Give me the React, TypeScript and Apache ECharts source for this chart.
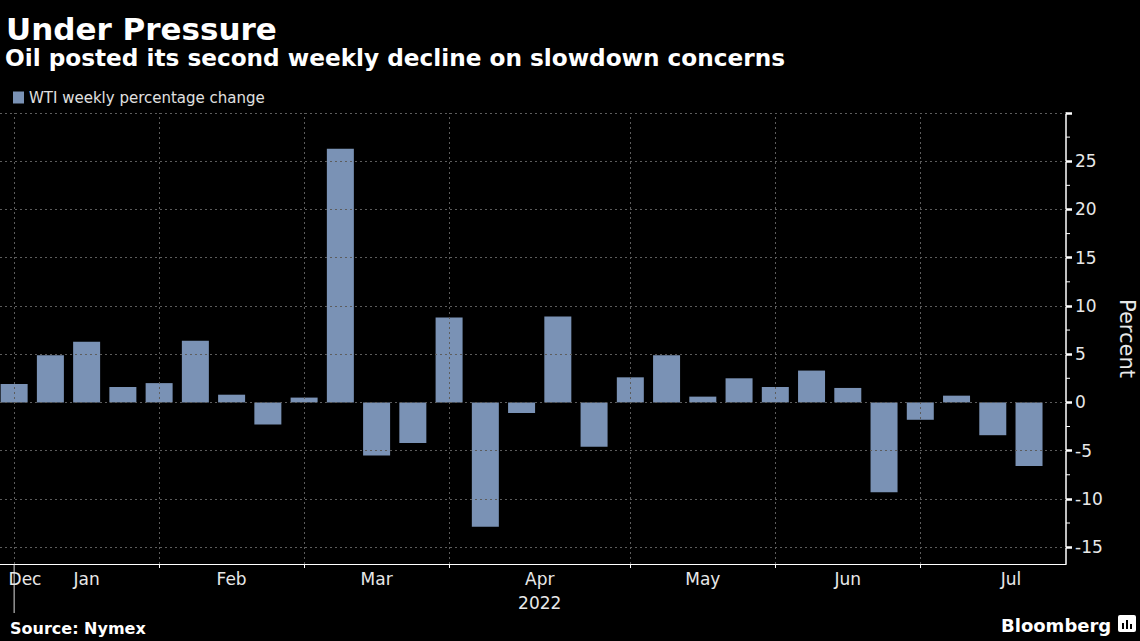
import React, { useEffect, useRef } from 'react';
import * as echarts from 'echarts';

// Week-ending dates (Fridays) and WTI weekly % change
const weekEnding = [
  '2021-12-31', '2022-01-07', '2022-01-14', '2022-01-21', '2022-01-28',
  '2022-02-04', '2022-02-11', '2022-02-18', '2022-02-25',
  '2022-03-04', '2022-03-11', '2022-03-18', '2022-03-25',
  '2022-04-01', '2022-04-08', '2022-04-14', '2022-04-22', '2022-04-29',
  '2022-05-06', '2022-05-13', '2022-05-20', '2022-05-27',
  '2022-06-03', '2022-06-10', '2022-06-17', '2022-06-24',
  '2022-07-01', '2022-07-08', '2022-07-15',
];
const wtiChange = [
  1.9, 4.9, 6.3, 1.6, 2.0,
  6.4, 0.8, -2.3, 0.5,
  26.3, -5.5, -4.2, 8.8,
  -12.9, -1.1, 8.9, -4.6, 2.6,
  4.9, 0.6, 2.5, 1.6,
  3.3, 1.5, -9.3, -1.8,
  0.7, -3.4, -6.6,
];
const monthNames = ['Dec', 'Jan', 'Feb', 'Mar', 'Apr', 'May', 'Jun', 'Jul'];
const yearLabel = '2022';
const yearLabelMonth = 'Apr';
const yTickValues = [-15, -10, -5, 0, 5, 10, 15, 20, 25];
const yGridValues = [-15, -10, -5, 0, 5, 10, 15, 20, 25, 30];
const yMinorValues = [-12.5, -7.5, -2.5, 2.5, 7.5, 12.5, 17.5, 22.5, 27.5];
const Y_MIN = -16.75;
const Y_MAX = 30;
const X_MIN = -0.39;
const X_MAX = 29.02;

// month boundaries: last week of each month (index positions)
const boundaries: number[] = [];
for (let i = 0; i < weekEnding.length - 1; i++) {
  if (weekEnding[i].slice(5, 7) !== weekEnding[i + 1].slice(5, 7)) boundaries.push(i);
}
// label positions: middle of each month span (first clamped into view)
const monthPos: number[] = [];
{
  const edges = [boundaries[0] - 4, ...boundaries, boundaries[boundaries.length - 1] + 5];
  for (let k = 0; k < edges.length - 1; k++) {
    monthPos.push((edges[k] + edges[k + 1]) / 2);
  }
  monthPos[0] = 0.3;
}

const FONT = '"DejaVu Sans", Verdana, sans-serif';
const GRID_COLOR = '#5c5c5c';
const BAR_COLOR = '#7a92b5';

export default function App() {
  const ref = useRef<HTMLDivElement>(null);
  useEffect(() => {
    if (!ref.current) return;
    const chart = echarts.init(ref.current, null, { renderer: 'svg' });
    const dashed = { color: GRID_COLOR, width: 1, type: [2, 3] as any };
    const option: any = {
      animation: false,
      backgroundColor: '#000',
      title: [
        {
          text: 'Under Pressure',
          left: 1,
          top: 8,
          textStyle: { color: '#fff', fontFamily: FONT, fontWeight: 'bold', fontSize: 31 },
        },
        {
          text: 'Oil posted its second weekly decline on slowdown concerns',
          left: 0,
          top: 41,
          textStyle: { color: '#fff', fontFamily: FONT, fontWeight: 'bold', fontSize: 23.2 },
        },
        {
          text: 'Source: Nymex',
          left: 5,
          top: 615,
          textStyle: { color: '#fff', fontFamily: FONT, fontWeight: 'bold', fontSize: 16 },
        },
        {
          text: 'Bloomberg',
          left: 996,
          top: 611,
          textStyle: { color: '#fff', fontFamily: FONT, fontWeight: 'bold', fontSize: 18 },
        },
      ],
      legend: {
        left: 8,
        top: 85,
        icon: 'rect',
        itemWidth: 11,
        itemHeight: 12,
        itemGap: 5,
        textStyle: { color: '#e0e0e0', fontFamily: FONT, fontSize: 15 },
        data: ['WTI weekly percentage change'],
      },
      grid: { left: 0, right: 74, top: 113, bottom: 77, containLabel: false, outerBoundsMode: 'none' },
      xAxis: {
        type: 'value',
        min: X_MIN,
        max: X_MAX,
        position: 'bottom',
        axisLine: { show: true, onZero: false, lineStyle: { color: '#fff', width: 1 } },
        axisTick: {
          show: true,
          customValues: boundaries.slice(1),
          length: 4,
          lineStyle: { color: '#fff' },
        },
        axisLabel: {
          show: true,
          customValues: monthPos,
          margin: 3,
          color: '#e8e8e8',
          fontFamily: FONT,
          fontSize: 17,
          lineHeight: 24,
          formatter: (v: number) => {
            const k = monthPos.findIndex((p) => Math.abs(p - v) < 1e-6);
            const name = k >= 0 ? monthNames[k] : '';
            return name === yearLabelMonth ? name + '\n' + yearLabel : name;
          },
        },
        splitLine: { show: false },
      },
      yAxis: {
        type: 'value',
        position: 'right',
        min: Y_MIN,
        max: Y_MAX,
        axisLine: { show: true, onZero: false, lineStyle: { color: '#fff', width: 1.5 } },
        axisTick: {
          show: true,
          customValues: yGridValues,
          length: 6,
          lineStyle: { color: '#fff', width: 2.5 },
        },
        axisLabel: {
          show: true,
          customValues: yTickValues,
          margin: 9,
          color: '#e8e8e8',
          fontFamily: FONT,
          fontSize: 17,
        },
        splitLine: { show: false },
        name: 'Percent',
        nameLocation: 'middle',
        nameRotate: -90,
        nameGap: 50,
        nameTextStyle: { color: '#e8e8e8', fontFamily: FONT, fontSize: 21 },
      },
      series: [
        {
          type: 'line',
          name: 'grid',
          data: [],
          silent: true,
          z: 1,
          markLine: {
            silent: true,
            symbol: 'none',
            label: { show: false },
            lineStyle: dashed,
            data: [
              ...yGridValues.map((v) => ({ yAxis: v })),
              ...boundaries.map((b) => ({ xAxis: b })),
            ],
          },
        },
        {
          type: 'bar',
          name: 'WTI weekly percentage change',
          data: wtiChange.map((v, i) => [i, v]),
          barWidth: 27,
          itemStyle: { color: BAR_COLOR },
          clip: true,
          z: 2,
        },
      ],
    };
    chart.setOption(option);

    // extra axis decorations placed through the axes' own scales
    const [yearX, axisY] = chart.convertToPixel({ gridIndex: 0 }, [boundaries[0], Y_MIN]) as number[];
    const axisX = chart.convertToPixel({ gridIndex: 0 }, [X_MAX, 0])[0] as number;
    const minorTicks = yMinorValues.map((v) => {
      const py = chart.convertToPixel({ gridIndex: 0 }, [X_MAX, v])[1] as number;
      return {
        type: 'line',
        shape: { x1: axisX, y1: py, x2: axisX + 4, y2: py },
        style: { stroke: '#fff', lineWidth: 1 },
        silent: true,
      };
    });
    chart.setOption({
      graphic: [
        {
          type: 'line',
          shape: { x1: yearX, y1: axisY, x2: yearX, y2: axisY + 49 },
          style: { stroke: '#ddd', lineWidth: 1 },
          silent: true,
        },
        ...minorTicks,
        {
          type: 'group',
          left: 1118,
          top: 615,
          children: [
            { type: 'rect', shape: { x: 0, y: 0, width: 18, height: 17, r: 2 }, style: { fill: '#fff' } },
            { type: 'rect', shape: { x: 4, y: 8, width: 2, height: 6 }, style: { fill: '#000' } },
            { type: 'rect', shape: { x: 8, y: 5, width: 2, height: 9 }, style: { fill: '#000' } },
            { type: 'rect', shape: { x: 12, y: 9, width: 2, height: 5 }, style: { fill: '#000' } },
          ],
        },
      ],
    });
    return () => chart.dispose();
  }, []);
  return (
    <div
      ref={ref}
      style={{ position: 'fixed', left: 0, top: 0, width: 1140, height: 641 }}
    />
  );
}
